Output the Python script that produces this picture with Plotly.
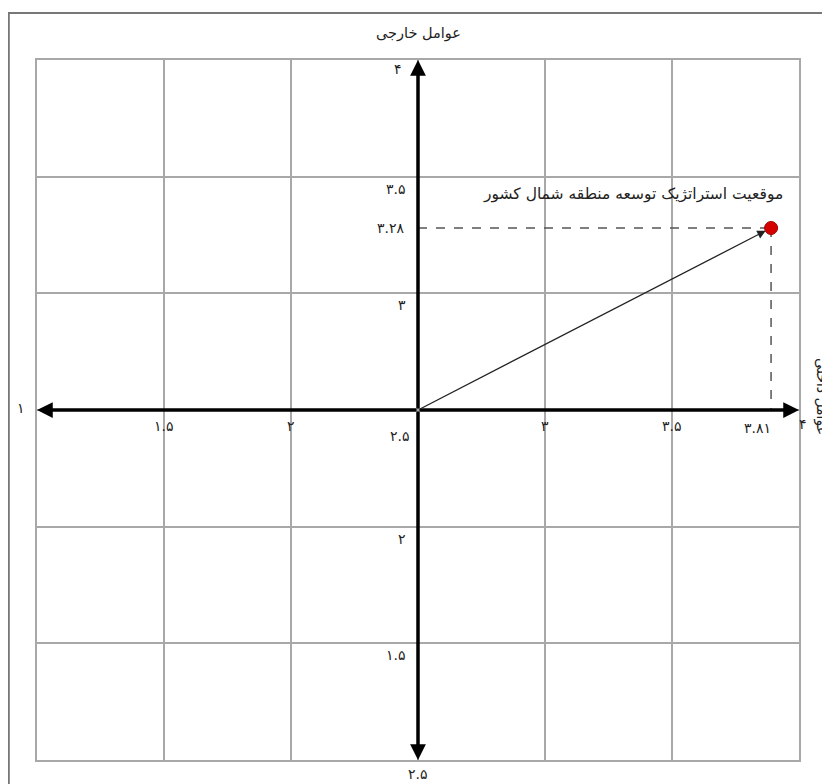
import plotly.graph_objects as go

# axis grid positions (data units)
grid_vals = [1, 1.5, 2, 2.5, 3, 3.5, 4]

# tick labels as printed in the source (Persian digits)
x_tick_vals = [1, 1.5, 2, 3, 3.5, 4]
x_tick_text = ["۱", "۱.۵", "۲", "۳", "۳.۵", "۴"]
y_tick_vals = [4, 3.5, 3, 2, 1.5, 1]
y_tick_text = ["۴", "۳.۵", "۳", "۲", "۱.۵", "۲.۵"]
center_text = "۲.۵"

# strategic position (drawn position, printed labels)
point_x = 3.89
point_y = 3.28
point_x_label = "۳.۸۱"
point_y_label = "۳.۲۸"
point_name = "موقعیت استراتژیک توسعه منطقه شمال کشور"
top_title = "عوامل خارجی"
right_title = "عوامل داخلی"

FONT = "DejaVu Sans"
TXT = "#222"

fig = go.Figure()

# dashed guides
fig.add_scatter(x=[2.5, point_x], y=[point_y, point_y], mode="lines",
                line=dict(color="#555", width=1.5, dash="dash"), hoverinfo="skip")
fig.add_scatter(x=[point_x, point_x], y=[point_y, 2.5], mode="lines",
                line=dict(color="#555", width=1.5, dash="dash"), hoverinfo="skip")

# main axes arrows
for ex, ey in [(4, 2.5), (1, 2.5), (2.5, 4), (2.5, 1)]:
    fig.add_annotation(x=ex, y=ey, ax=2.5, ay=2.5, xref="x", yref="y", axref="x", ayref="y",
                       showarrow=True, arrowhead=2, arrowsize=0.9, arrowwidth=3.5,
                       arrowcolor="black", text="")

# vector to the point
fig.add_annotation(x=point_x, y=point_y, ax=2.5, ay=2.5, xref="x", yref="y", axref="x", ayref="y",
                   showarrow=True, arrowhead=2, arrowsize=1.3, arrowwidth=1.3,
                   arrowcolor="#222", standoff=6, text="")

fig.add_scatter(x=[point_x], y=[point_y], mode="markers",
                marker=dict(size=13, color="#d40000", line=dict(color="#a00000", width=1)),
                hoverinfo="skip")

# x tick labels (below axis)
for v, t in zip(x_tick_vals, x_tick_text):
    if v == 1:
        fig.add_annotation(x=v, y=2.5, text=t, showarrow=False, xanchor="right", xshift=-10, yshift=2)
    elif v == 4:
        fig.add_annotation(x=v, y=2.5, text=t, showarrow=False, xanchor="left", xshift=-2, yshift=-14)
    else:
        fig.add_annotation(x=v, y=2.5, text=t, showarrow=False, yshift=-16)
fig.add_annotation(x=2.5, y=2.5, text=center_text, showarrow=False, xanchor="right", xshift=-6, yshift=-26)
fig.add_annotation(x=point_x, y=2.5, text=point_x_label, showarrow=False, xanchor="right", xshift=2, yshift=-18)

# y tick labels (left of axis)
for v, t in zip(y_tick_vals, y_tick_text):
    if v == 4:
        fig.add_annotation(x=2.5, y=v, text=t, showarrow=False, xanchor="right", xshift=-14, yshift=-9)
    elif v == 1:
        fig.add_annotation(x=2.5, y=v, text=t, showarrow=False, yshift=-14)
    else:
        fig.add_annotation(x=2.5, y=v, text=t, showarrow=False, xanchor="right", xshift=-10, yshift=-12)
fig.add_annotation(x=2.5, y=point_y, text=point_y_label, showarrow=False, xanchor="right", xshift=-12)

# point name and titles
fig.add_annotation(x=point_x, y=point_y, text=point_name, showarrow=False,
                   xanchor="right", xshift=14, yshift=34, font=dict(size=15.5))
fig.add_annotation(x=0.5, y=1, xref="paper", yref="paper", text=top_title, showarrow=False,
                   yanchor="bottom", yshift=16, font=dict(size=14.5))
fig.add_annotation(x=1.044, y=0.52, xref="paper", yref="paper", text=right_title, showarrow=False,
                   textangle=90, font=dict(size=14))

# outer frame
fig.add_shape(type="rect", xref="paper", yref="paper", x0=-0.037, x1=1.2, y0=-0.2, y1=1.067,
              line=dict(color="#777", width=2), layer="below")

axis_style = dict(range=[1, 4], tickvals=grid_vals, showticklabels=False, ticks="",
                  showgrid=True, gridcolor="#a8a8a8", gridwidth=2, zeroline=False,
                  showline=True, mirror=True, linecolor="#a8a8a8", linewidth=2, fixedrange=True)

fig.update_layout(
    width=830, height=784,
    margin=dict(l=29, r=39, t=52, b=32),
    paper_bgcolor="white", plot_bgcolor="white",
    showlegend=False,
    font=dict(family=FONT, size=14, color=TXT),
    xaxis=axis_style, yaxis=axis_style,
)

fig.write_html("out.html")
